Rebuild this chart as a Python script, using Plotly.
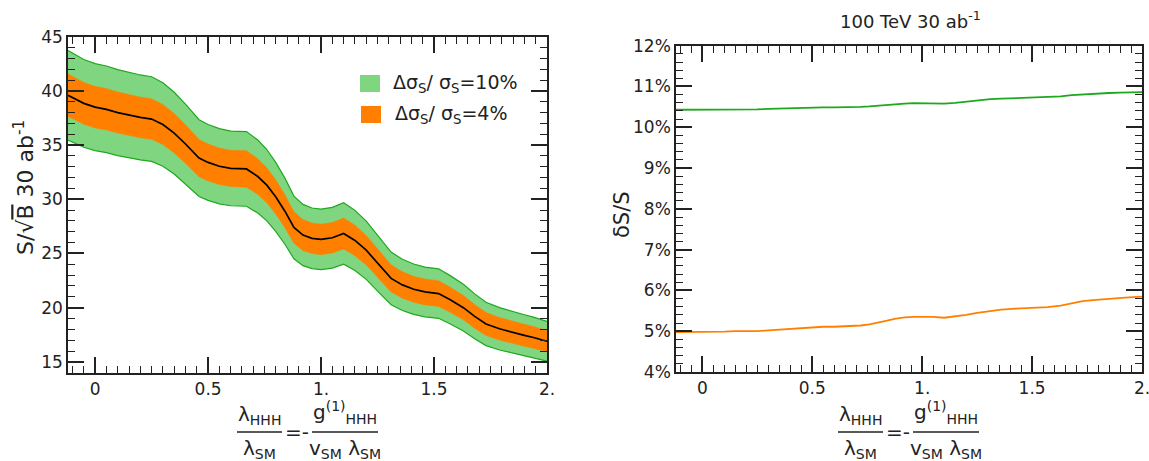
import numpy as np
import plotly.graph_objects as go

# ---------------- data ----------------
lam = [-0.12, -0.05, 0.0, 0.05, 0.1, 0.15, 0.2, 0.25, 0.3, 0.35, 0.4, 0.46, 0.5, 0.55, 0.6, 0.67,
       0.72, 0.76, 0.8, 0.84, 0.88, 0.92, 0.96, 1.0, 1.05, 1.1, 1.15, 1.2, 1.25, 1.31, 1.36, 1.41,
       1.46, 1.52, 1.57, 1.63, 1.68, 1.73, 1.79, 1.85, 1.9, 1.94, 2.0]
s_over_sqrtb = [39.6, 38.85, 38.5, 38.3, 38.0, 37.75, 37.55, 37.4, 36.9, 36.1, 35.1, 33.8, 33.4, 33.05,
                32.85, 32.8, 32.1, 31.3, 30.2, 28.9, 27.4, 26.7, 26.4, 26.3, 26.45, 26.85, 26.2, 25.3,
                24.1, 22.7, 22.1, 21.7, 21.45, 21.3, 20.75, 20.0, 19.2, 18.5, 18.05, 17.7, 17.45, 17.25, 16.9]
rel_unc_10 = [10.43, 10.43, 10.43, 10.43, 10.44, 10.44, 10.44, 10.44, 10.45, 10.46, 10.47, 10.48, 10.48,
              10.49, 10.49, 10.49, 10.5, 10.51, 10.53, 10.55, 10.57, 10.58, 10.59, 10.59, 10.59, 10.58,
              10.6, 10.63, 10.66, 10.69, 10.7, 10.71, 10.71, 10.72, 10.74, 10.76, 10.79, 10.81, 10.83,
              10.84, 10.85, 10.85, 10.86]
rel_unc_4 = [4.98, 4.98, 4.98, 4.99, 4.99, 5.0, 5.0, 5.0, 5.02, 5.04, 5.06, 5.09, 5.1, 5.11, 5.11, 5.12,
             5.14, 5.17, 5.21, 5.26, 5.31, 5.34, 5.35, 5.35, 5.35, 5.33, 5.36, 5.40, 5.45, 5.50, 5.53,
             5.55, 5.56, 5.57, 5.59, 5.63, 5.68, 5.74, 5.77, 5.8, 5.82, 5.83, 5.85]

x_tickvals = [0, 0.5, 1, 1.5, 2]
x_ticktext = ["0", "0.5", "1.", "1.5", "2."]
y_left_ticks = [15, 20, 25, 30, 35, 40, 45]
y_right_ticks = [4, 5, 6, 7, 8, 9, 10, 11, 12]
y_right_text = [f"{v}%" for v in y_right_ticks]
legend_labels = ["Δσ<sub>S</sub>/ σ<sub>S</sub>=10%", "Δσ<sub>S</sub>/ σ<sub>S</sub>=4%"]

# ---------------- style ----------------
W, H = 1149, 461
GREEN_LINE = "#1ea81e"
GREEN_FILL = "#80d680"
ORANGE = "#ff8000"
AX = "#222222"
FONT = "DejaVu Sans"


def px(v):
    return v / W


def py(v):
    return 1 - v / H


c = np.array(s_over_sqrtb)
g = np.array(rel_unc_10) / 100.0
o = np.array(rel_unc_4) / 100.0

fig = go.Figure()
fig.add_trace(go.Scatter(x=lam, y=c * (1 - g), mode="lines", line=dict(color=GREEN_LINE, width=1.2),
                         xaxis="x", yaxis="y", showlegend=False))
fig.add_trace(go.Scatter(x=lam, y=c * (1 + g), mode="lines", line=dict(color=GREEN_LINE, width=1.2),
                         fill="tonexty", fillcolor=GREEN_FILL, xaxis="x", yaxis="y", showlegend=False))
fig.add_trace(go.Scatter(x=lam, y=c * (1 - o), mode="lines", line=dict(color=ORANGE, width=0.5),
                         xaxis="x", yaxis="y", showlegend=False))
fig.add_trace(go.Scatter(x=lam, y=c * (1 + o), mode="lines", line=dict(color=ORANGE, width=0.5),
                         fill="tonexty", fillcolor=ORANGE, xaxis="x", yaxis="y", showlegend=False))
fig.add_trace(go.Scatter(x=lam, y=c, mode="lines", line=dict(color="black", width=1.7),
                         xaxis="x", yaxis="y", showlegend=False))
fig.add_trace(go.Scatter(x=lam, y=rel_unc_10, mode="lines", line=dict(color=GREEN_LINE, width=1.8),
                         xaxis="x2", yaxis="y2", showlegend=False))
fig.add_trace(go.Scatter(x=lam, y=rel_unc_4, mode="lines", line=dict(color=ORANGE, width=1.8),
                         xaxis="x2", yaxis="y2", showlegend=False))

common = dict(showline=True, linecolor=AX, linewidth=1.6, mirror="allticks", ticks="inside",
              ticklen=16, tickwidth=1.5, tickcolor=AX, showgrid=False, zeroline=False,
              automargin=False, ticklabeloverflow="allow",
              tickfont=dict(family=FONT, size=17, color=AX))

fig.update_layout(
    width=W, height=H, margin=dict(l=0, r=0, t=0, b=0, pad=0, autoexpand=False),
    paper_bgcolor="white", plot_bgcolor="white", showlegend=False,
    font=dict(family=FONT, color=AX),
    xaxis=dict(domain=[px(68), px(547)], range=[-0.12, 2.0], anchor="y",
               tickvals=x_tickvals, ticktext=x_ticktext,
               minor=dict(ticks="inside", ticklen=7, tickwidth=1.2, tickcolor=AX, dtick=0.05, tick0=0),
               **common),
    yaxis=dict(domain=[py(372.7), py(36.7)], range=[14, 45], anchor="x",
               tickvals=y_left_ticks,
               minor=dict(ticks="inside", ticklen=7, tickwidth=1.2, tickcolor=AX, dtick=1, tick0=0),
               **common),
    xaxis2=dict(domain=[px(676), px(1142)], range=[-0.12, 2.0], anchor="y2",
                tickvals=x_tickvals, ticktext=x_ticktext,
                minor=dict(ticks="inside", ticklen=7, tickwidth=1.2, tickcolor=AX, dtick=0.05, tick0=0),
                **common),
    yaxis2=dict(domain=[py(372), py(45.7)], range=[4, 12], anchor="x2",
                tickvals=y_right_ticks, ticktext=y_right_text,
                minor=dict(ticks="inside", ticklen=7, tickwidth=1.2, tickcolor=AX, dtick=0.2, tick0=0),
                **common),
)

ann = []
shapes = []

# legend (left panel)
shapes.append(dict(type="rect", xref="paper", yref="paper", x0=px(360), x1=px(380), y0=py(92), y1=py(75),
                   fillcolor=GREEN_FILL, line=dict(width=0)))
shapes.append(dict(type="rect", xref="paper", yref="paper", x0=px(361), x1=px(381), y0=py(123), y1=py(106),
                   fillcolor=ORANGE, line=dict(width=0)))
ann.append(dict(text=legend_labels[0], x=px(391), y=py(83), xref="paper", yref="paper",
                xanchor="left", yanchor="middle", showarrow=False, font=dict(size=19, color=AX)))
ann.append(dict(text=legend_labels[1], x=px(393), y=py(114), xref="paper", yref="paper",
                xanchor="left", yanchor="middle", showarrow=False, font=dict(size=19, color=AX)))

# y titles
ann.append(dict(text="S/√<span style='text-decoration:overline'>B</span> 30 ab<sup>-1</sup>",
                x=px(24), y=py(188), xref="paper", yref="paper", textangle=-90,
                xanchor="center", yanchor="middle", showarrow=False, font=dict(size=22, color=AX)))
ann.append(dict(text="δS/S", x=px(622), y=py(215), xref="paper", yref="paper", textangle=-90,
                xanchor="center", yanchor="middle", showarrow=False, font=dict(size=21, color=AX)))

# right title
ann.append(dict(text="100 TeV 30 ab<sup>-1</sup>", x=px(910), y=py(20), xref="paper", yref="paper",
                xanchor="center", yanchor="middle", showarrow=False, font=dict(size=18, color=AX)))

# x titles (fractions)
for off in (0, 601):
    c1 = 259 + off
    c2 = 345 + off
    ann.append(dict(text="λ<sub>HHH</sub>", x=px(c1), y=py(415), xref="paper", yref="paper",
                    xanchor="center", yanchor="middle", showarrow=False, font=dict(size=20, color=AX)))
    ann.append(dict(text="λ<sub>SM</sub>", x=px(c1), y=py(449), xref="paper", yref="paper",
                    xanchor="center", yanchor="middle", showarrow=False, font=dict(size=20, color=AX)))
    ann.append(dict(text="=-", x=px(297 + off), y=py(432), xref="paper", yref="paper",
                    xanchor="center", yanchor="middle", showarrow=False, font=dict(size=20, color=AX)))
    ann.append(dict(text="g<sup>(1)</sup><sub>HHH</sub>", x=px(c2), y=py(412), xref="paper", yref="paper",
                    xanchor="center", yanchor="middle", showarrow=False, font=dict(size=20, color=AX)))
    ann.append(dict(text="v<sub>SM</sub> λ<sub>SM</sub>", x=px(c2), y=py(449), xref="paper", yref="paper",
                    xanchor="center", yanchor="middle", showarrow=False, font=dict(size=20, color=AX)))
    shapes.append(dict(type="line", xref="paper", yref="paper", x0=px(237 + off), x1=px(282 + off),
                       y0=py(432), y1=py(432), line=dict(color=AX, width=1.5)))
    shapes.append(dict(type="line", xref="paper", yref="paper", x0=px(312 + off), x1=px(378 + off),
                       y0=py(432), y1=py(432), line=dict(color=AX, width=1.5)))

fig.update_layout(annotations=ann, shapes=shapes)
fig.write_html("out.html", config={"displayModeBar": False},
               post_script="document.body.style.margin='0';document.body.style.overflow='hidden';")
